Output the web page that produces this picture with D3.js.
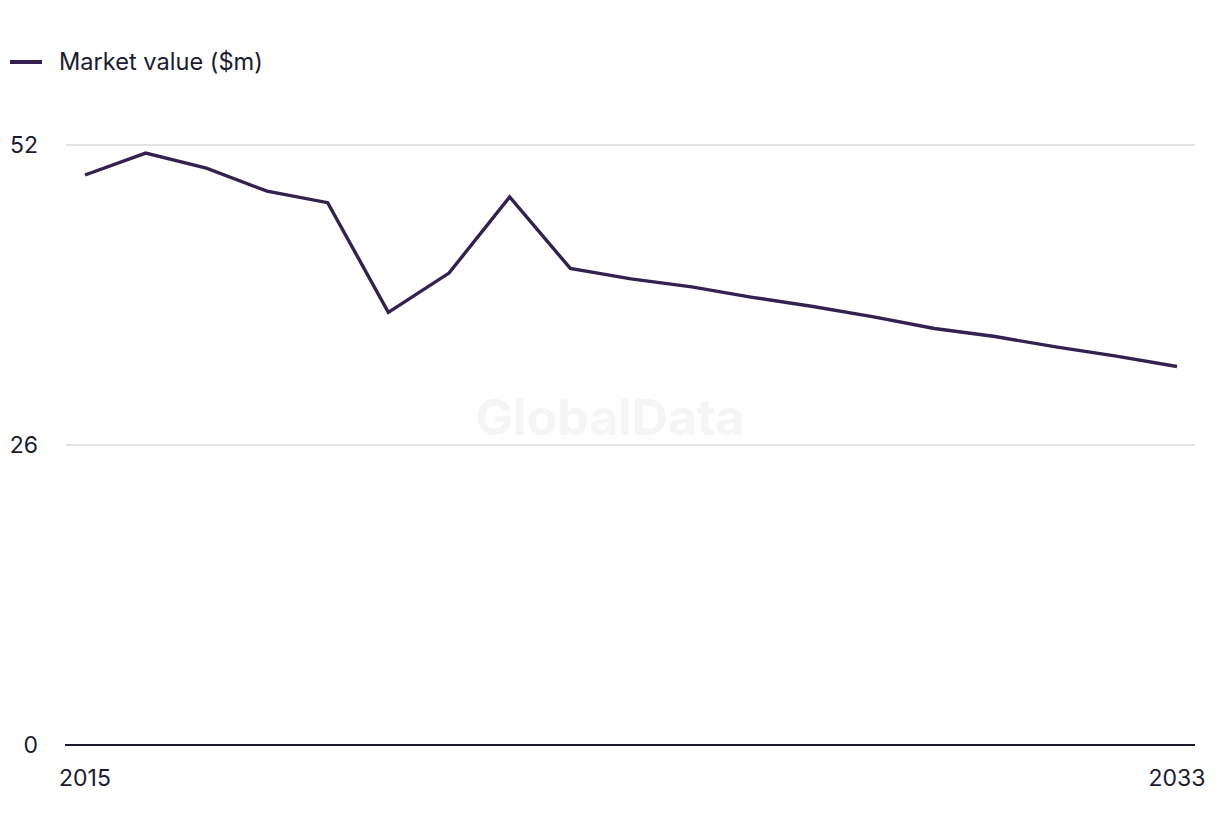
<!DOCTYPE html>
<html><head><meta charset="utf-8">
<script src="https://cdn.jsdelivr.net/npm/d3@7"></script>
<style>body{margin:0;background:#fff}svg{display:block}text{font-family:"Inter","Liberation Sans",sans-serif}</style>
</head><body>
<svg id="c" width="1220" height="836"></svg>
<script>
const years = [2015,2016,2017,2018,2019,2020,2021,2022,2023,2024,2025,2026,2027,2028,2029,2030,2031,2032,2033];
const marketValue = [49.4,51.3,50.0,48.0,47.0,37.5,40.9,47.5,41.3,40.4,39.7,38.8,38.0,37.1,36.1,35.4,34.5,33.7,32.8];
const yTicks = [0,26,52];
const xTickLabels = [2015,2033];
const seriesName = "Market value ($m)";

const svg = d3.select("#c");
const x = d3.scaleLinear().domain([2015,2033]).range([85,1177]);
const y = d3.scaleLinear().domain([0,52]).range([745,145]);

svg.append("text").attr("x",610).attr("y",435).attr("text-anchor","middle")
  .attr("font-size",50).attr("font-weight",700).attr("fill","#f5f5f5").text("GlobalData");

// gridlines
svg.append("g").selectAll("line").data(yTicks.filter(d=>d>0)).join("line")
  .attr("x1",66).attr("x2",1195).attr("y1",d=>y(d)).attr("y2",d=>y(d))
  .attr("stroke","#d9d9d9").attr("stroke-width",1.5);
// y labels
svg.append("g").selectAll("text").data(yTicks).join("text")
  .attr("x",38).attr("y",d=>y(d)+8).attr("text-anchor","end")
  .attr("font-size",23).attr("fill","#1b1b2f").text(d=>d);
// baseline
svg.append("line").attr("x1",65).attr("x2",1195).attr("y1",y(0)).attr("y2",y(0))
  .attr("stroke","#1b1b2f").attr("stroke-width",2);
// x labels
svg.append("g").selectAll("text").data(xTickLabels).join("text")
  .attr("x",d=>x(d)).attr("y",786).attr("text-anchor","middle")
  .attr("font-size",23).attr("fill","#1b1b2f").text(d=>d);

// line
svg.append("path").datum(years.map((yr,i)=>[yr,marketValue[i]]))
  .attr("fill","none").attr("stroke","#35214f").attr("stroke-width",3.4)
  .attr("stroke-linejoin","miter")
  .attr("d",d3.line().x(d=>x(d[0])).y(d=>y(d[1])));

// legend
svg.append("line").attr("x1",10).attr("x2",42).attr("y1",62).attr("y2",62)
  .attr("stroke","#35214f").attr("stroke-width",4);
svg.append("text").attr("x",59).attr("y",70).attr("font-size",23.6).attr("fill","#1b1b2f").text(seriesName);
</script>
</body></html>
